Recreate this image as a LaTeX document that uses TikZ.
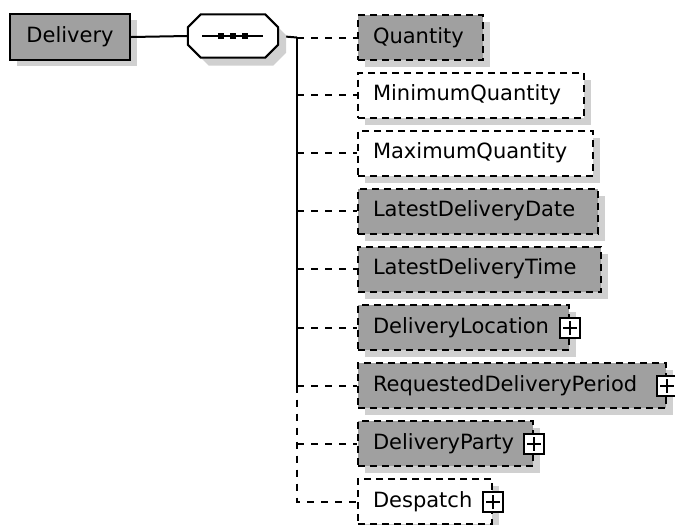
\documentclass[tikz,border=0pt]{standalone}
\usepackage{fontspec}
\setmainfont{DejaVu Sans}
\usetikzlibrary{shadows}
\definecolor{boxgray}{RGB}{160,160,160}
\definecolor{shadowgray}{RGB}{208,208,208}
\newcommand{\lab}[2]{\makebox[#1pt][l]{\hspace*{15pt}#2}}
\newcommand{\octpath}[2]{([xshift=13pt+#1,yshift=#2]seq.north west) -- ([xshift=-13pt+#1,yshift=#2]seq.north east)
  -- ([xshift=#1,yshift=-13pt+#2]seq.north east) -- ([xshift=#1,yshift=13pt+#2]seq.south east)
  -- ([xshift=-13pt+#1,yshift=#2]seq.south east) -- ([xshift=13pt+#1,yshift=#2]seq.south west)
  -- ([xshift=#1,yshift=13pt+#2]seq.south west) -- ([xshift=#1,yshift=-13pt+#2]seq.north west) -- cycle}
\tikzset{
  shd/.style={drop shadow={shadow xshift=7pt, shadow yshift=-7pt, fill=shadowgray, opacity=1}},
  elem/.style={anchor=west, inner sep=0pt, minimum height=45pt, draw=black,
    line width=2pt, dash pattern=on 7pt off 5pt, shd,
    font=\fontsize{21}{25}\selectfont},
  grayel/.style={elem, fill=boxgray},
  whiteel/.style={elem, fill=white},
  conn/.style={draw=black, line width=2pt, dash pattern=on 7pt off 7pt},
  solidconn/.style={draw=black, line width=2pt},
  plusbox/.style={draw=black, fill=white, line width=2pt, solid, minimum width=20pt,
    minimum height=20pt, inner sep=0pt,
    path picture={
      \draw[line width=2pt] ([xshift=-7pt]path picture bounding box.center) -- ([xshift=7pt]path picture bounding box.center);
      \draw[line width=2pt] ([yshift=-7pt]path picture bounding box.center) -- ([yshift=7pt]path picture bounding box.center);
    }},
  dot/.style={fill=black, inner sep=0pt, minimum size=6pt}
}
\begin{document}
\begin{tikzpicture}[x=1pt,y=-1pt]
\useasboundingbox (0,0) rectangle (675,525);

% root element
\node[draw=black, fill=boxgray, line width=2.4pt, minimum width=120pt, minimum height=46pt,
  inner sep=0pt, drop shadow={shadow xshift=7pt, shadow yshift=-6pt, fill=shadowgray, opacity=1},
  font=\fontsize{21}{25}\selectfont] (root) at (70,37) {Delivery};

% sequence compositor
\coordinate (t0) at (297,37.5);
\coordinate (tR) at (297,385.5);
\node[minimum width=90pt, minimum height=43pt, inner sep=0pt] (seq) at (233,36) {};
\draw[solidconn] (seq.east) -- (t0);
\fill[shadowgray] \octpath{8pt}{-8pt};
\draw[fill=white, line width=2pt] \octpath{0pt}{0pt};
\draw[solidconn] (root.east) -- (seq.west);
\draw[line width=2pt] ([xshift=-31pt]seq.center) -- ([xshift=30pt]seq.center);
\node[dot] (d1) at ([xshift=-12pt]seq.center) {};
\node[dot] (d2) at (seq.center) {};
\node[dot] (d3) at ([xshift=12pt]seq.center) {};

% child elements
\node[grayel]  (q)   at (357,37.5)  {\lab{125}{Quantity}};
\node[whiteel] (mn)  at (357,95)    {\lab{226}{MinimumQuantity}};
\node[whiteel] (mx)  at (357,153)   {\lab{235}{MaximumQuantity}};
\node[grayel]  (ldd) at (357,211)   {\lab{240}{LatestDeliveryDate}};
\node[grayel]  (ldt) at (357,269)   {\lab{243}{LatestDeliveryTime}};
\node[grayel]  (dl)  at (357,327.5) {\lab{211}{DeliveryLocation}};
\node[grayel]  (rdp) at (357,385.5) {\lab{308}{RequestedDeliveryPeriod}};
\node[grayel]  (dp)  at (357,443.5) {\lab{175}{DeliveryParty}};
\node[whiteel] (ds)  at (357,501.5) {\lab{134}{Despatch}};

% expand boxes
\node[plusbox] (pdl)  at (dl.east)  {};
\node[plusbox] (prdp) at (rdp.east) {};
\node[plusbox] (pdp)  at (dp.east)  {};
\node[plusbox] (pds)  at (ds.east)  {};

% trunk and connectors
\draw[solidconn] (t0) -- (tR);
\draw[conn] (tR) -- (tR |- ds.west) -- (ds.west);
\foreach \n in {q,mn,mx,ldd,ldt,dl,rdp,dp}{
  \draw[conn] (t0 |- \n.west) -- (\n.west);
}
\end{tikzpicture}
\end{document}
